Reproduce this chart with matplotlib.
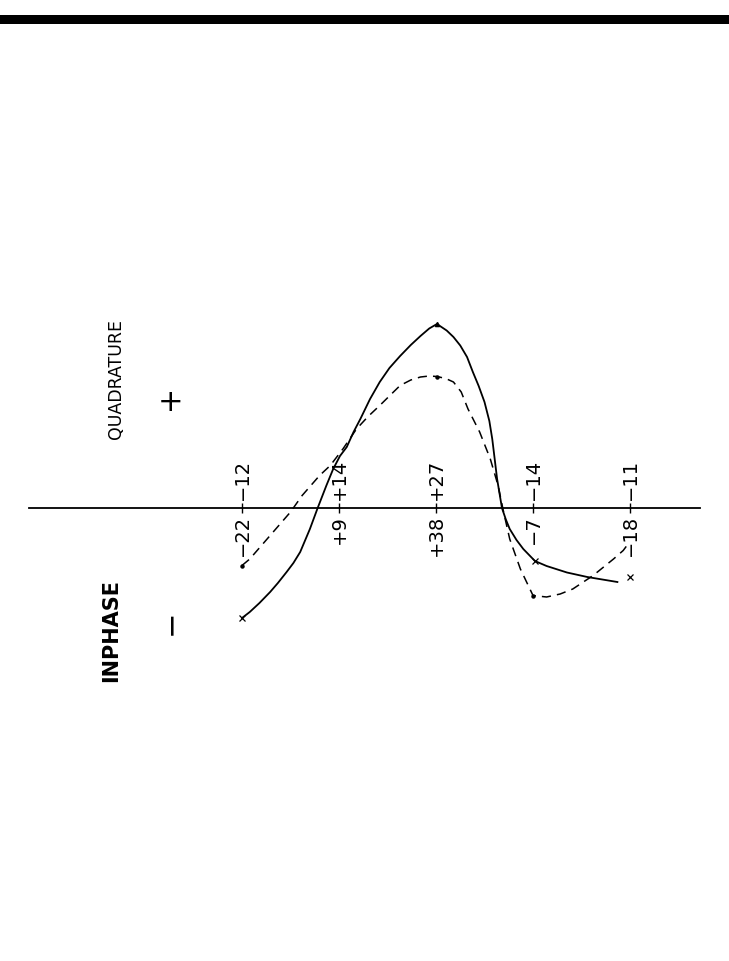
import numpy as np
import matplotlib
matplotlib.use("Agg")
import matplotlib.pyplot as plt

# station positions along the profile and the values written at each one
stations = [1, 2, 3, 4, 5]
inphase_labels = ["\u221222", "+9", "+38", "\u22127", "\u221218"]
quad_labels = ["\u221212", "+14", "+27", "\u221214", "\u221211"]

# solid curve (inphase)
inphase_x = [1.0, 1.08, 1.18, 1.29, 1.37, 1.46, 1.53, 1.6, 1.7, 1.78, 1.87, 1.94, 2.01,
             2.08, 2.15, 2.22, 2.32, 2.42, 2.52, 2.63, 2.74, 2.84, 2.93, 3.01, 3.11,
             3.18, 3.25, 3.32, 3.38, 3.44, 3.5, 3.55, 3.58, 3.63, 3.68, 3.72, 3.76,
             3.83, 3.9, 4.02, 4.14, 4.35, 4.56, 4.87]
inphase_y = [-22.0, -20.8, -19.0, -16.8, -15.0, -12.8, -11.0, -8.8, -4.2, 0.0, 4.5, 7.8,
             10.4, 12.2, 15.2, 17.8, 21.8, 25.2, 28.0, 30.4, 32.6, 34.4, 35.9, 36.8,
             35.5, 34.2, 32.5, 30.2, 27.2, 24.4, 21.2, 17.4, 13.8, 5.8, 0.0, -2.3,
             -4.2, -6.4, -8.2, -10.6, -11.6, -12.9, -13.8, -14.8]

# dashed curve (quadrature)
quad_x = [1.0, 1.08, 1.29, 1.5, 1.62, 1.8, 1.91, 2.04, 2.18, 2.3, 2.42, 2.53, 2.63, 2.74,
          2.84, 2.93, 3.01, 3.1, 3.18, 3.26, 3.33, 3.45, 3.56, 3.64, 3.69, 3.76, 3.87,
          4.0, 4.14, 4.28, 4.41, 4.62, 4.83, 4.93, 4.98]
quad_y = [-11.5, -10.2, -5.5, -0.8, 2.5, 6.5, 8.5, 11.8, 15.8, 18.3, 20.5, 22.6, 24.5,
          25.6, 26.2, 26.4, 26.3, 25.9, 25.2, 23.2, 19.8, 15.2, 9.8, 4.5, -0.2, -6.2,
          -12.2, -17.5, -17.8, -17.2, -16.2, -13.5, -10.2, -8.5, -7.2]

# plotted points marked on the curves
inphase_mx = [1.0, 4.02, 5.0]
inphase_my = [-22.0, -10.6, -13.8]
quad_mx = [1.0, 3.01, 4.0]
quad_my = [-11.5, 26.3, -17.5]

fig = plt.figure(figsize=(7.29, 9.62), dpi=100)
ax = fig.add_axes([0, 0, 1, 1])
ax.set_xlim(1 - 242 / 97, 1 + 487 / 97)
ax.set_ylim(-90.6, 101.8)
ax.axis("off")

# heavy rule across the top of the page
ax.axhspan(96.9, 98.6, color="black", lw=0)

# zero line with small ticks at the stations
ax.plot([-1.2, 5.72], [0, 0], color="black", lw=1.3)
ax.vlines(stations, -1.0, 1.0, color="black", lw=1.0)

ax.plot(inphase_x, inphase_y, color="black", lw=1.3, solid_joinstyle="round")
ax.plot(quad_x, quad_y, color="black", lw=1.1, dashes=(6, 4))
ax.plot(inphase_mx, inphase_my, "x", color="black", ms=4, mew=0.9)
ax.plot(quad_mx, quad_my, "o", color="black", ms=2.2)
ax.plot([3.01], [36.8], "^", color="black", ms=3)

for s, lo, hi in zip(stations, inphase_labels, quad_labels):
    ax.text(s, -1.2, lo, rotation=90, ha="center", va="top", fontsize=14)
    ax.text(s, 1.8, hi, rotation=90, ha="center", va="bottom", fontsize=14)

ax.text(-0.3, 26.0, "QUADRATURE", rotation=90, ha="center", va="center", fontsize=12.5)
ax.text(-0.35, -24.2, "INPHASE", rotation=90, ha="center", va="center",
        fontsize=15, fontweight="bold")
ax.text(0.26, 21.2, "+", ha="center", va="center", fontsize=22)
ax.text(0.26, -22.6, "\u2212", rotation=90, ha="center", va="center", fontsize=22)

fig.savefig("out.png", dpi=100)
